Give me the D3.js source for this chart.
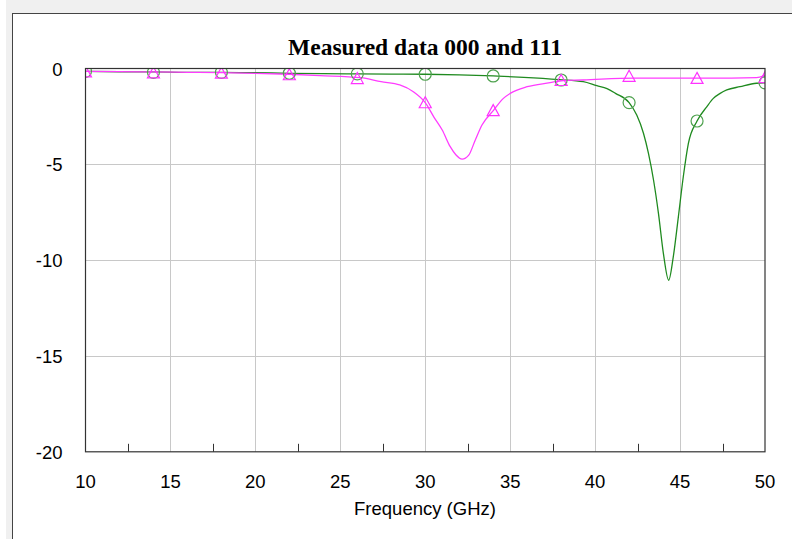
<!DOCTYPE html>
<html>
<head>
<meta charset="utf-8">
<script src="https://cdn.jsdelivr.net/npm/d3@7"></script>
<style>
  body { margin: 0; background: #ffffff; }
  svg { display: block; }
</style>
</head>
<body>
<svg width="792" height="539"></svg>
<script>
// Values
var chartTitle = "Measured data 000 and 111";
var xLabel = "Frequency (GHz)";
var xTicks = [10, 15, 20, 25, 30, 35, 40, 45, 50];
var xMinorTicks = [12.5, 17.5, 22.5, 27.5, 32.5, 37.5, 42.5, 47.5];
var yTicks = [0, -5, -10, -15, -20];

// green trace (circles)
var greenFreq = [10, 12, 14, 16, 18, 20, 22, 24, 26, 28, 30, 32, 34, 35.8, 37.9, 39.3, 40.1, 40.7, 41.2, 42.0,
                 42.45, 42.85, 43.14, 43.44, 43.73, 44.02, 44.33, 44.6, 44.9, 45.19, 45.49, 46.0, 46.57, 46.96,
                 47.36, 47.75, 48.53, 49.5, 50];
var greenDb = [-0.15, -0.17, -0.18, -0.2, -0.2, -0.22, -0.25, -0.27, -0.28, -0.29, -0.3, -0.33, -0.39, -0.46, -0.58,
               -0.69, -0.9, -1.05, -1.3, -1.78, -2.43, -3.39, -4.43, -5.83, -7.57, -9.66, -11.05, -9.83, -7.74,
               -5.65, -3.91, -2.74, -2.0, -1.56, -1.3, -1.12, -0.95, -0.77, -0.75];
var greenMarkFreq = [10, 14, 18, 22, 26, 30, 34, 38, 42, 46, 50];
var greenMarkDb = [-0.15, -0.2, -0.2, -0.25, -0.28, -0.3, -0.39, -0.6, -1.78, -2.74, -0.75];

// magenta trace (triangles)
var magFreq = [10, 12, 14, 16, 18, 20, 22, 23.8, 26.2, 27.4, 28.5, 29.3, 30.0, 30.5, 31.0, 31.47, 31.8, 32.17,
               32.56, 32.94, 33.34, 34.03, 34.6, 35.0, 36.0, 37.35, 38.0, 39.3, 42.3, 44, 46, 48, 49.5, 50];
var magDb = [-0.15, -0.16, -0.18, -0.2, -0.22, -0.25, -0.3, -0.37, -0.48, -0.69, -0.86, -1.21, -1.78, -2.52, -3.21,
             -4.08, -4.5, -4.73, -4.52, -3.74, -2.95, -2.17, -1.56, -1.3, -0.95, -0.74, -0.64, -0.6, -0.5, -0.5,
             -0.5, -0.5, -0.48, -0.35];
var magMarkFreq = [10, 14, 18, 22, 26, 30, 34, 38, 42, 46, 50];
var magMarkDb = [-0.15, -0.2, -0.22, -0.3, -0.5, -1.76, -2.17, -0.6, -0.38, -0.49, -0.45];

var svg = d3.select("svg"),
    margin = { top: 68.5, right: 27, bottom: 88, left: 85.5 },
    width = +svg.attr("width"),
    height = +svg.attr("height");

// window-like frame
svg.append("rect").attr("x", 6).attr("y", 0).attr("width", width).attr("height", height).attr("fill", "#f0f0f0");
svg.append("rect").attr("x", 12.5).attr("y", 13.5).attr("width", width).attr("height", height)
    .attr("fill", "#ffffff").attr("stroke", "#444").attr("stroke-width", 1);

var x = d3.scaleLinear().domain([10, 50]).range([margin.left, width - margin.right]);
var y = d3.scaleLinear().domain([-20, 0]).range([height - margin.bottom + 0.8, margin.top]);

// grid
svg.append("g").selectAll("line").data(xTicks.slice(1, -1)).enter().append("line")
    .attr("x1", function(d) { return Math.round(x(d)) + 0.5; })
    .attr("x2", function(d) { return Math.round(x(d)) + 0.5; })
    .attr("y1", y(0)).attr("y2", y(-20))
    .attr("stroke", "#c8c8c8").attr("stroke-width", 1);
svg.append("g").selectAll("line").data(yTicks.slice(1, -1)).enter().append("line")
    .attr("y1", function(d) { return Math.round(y(d)) + 0.5; })
    .attr("y2", function(d) { return Math.round(y(d)) + 0.5; })
    .attr("x1", x(10)).attr("x2", x(50))
    .attr("stroke", "#c8c8c8").attr("stroke-width", 1);

// minor ticks on the bottom edge
svg.append("g").selectAll("line").data(xMinorTicks).enter().append("line")
    .attr("x1", function(d) { return Math.round(x(d)) + 0.5; })
    .attr("x2", function(d) { return Math.round(x(d)) + 0.5; })
    .attr("y1", y(-20)).attr("y2", y(-20) - 8)
    .attr("stroke", "#333").attr("stroke-width", 1);

svg.append("defs").append("clipPath").attr("id", "plotClip")
    .append("rect").attr("x", x(10)).attr("y", y(0)).attr("width", x(50) - x(10)).attr("height", y(-20) - y(0));

var plot = svg.append("g").attr("clip-path", "url(#plotClip)");

var line = d3.line()
    .x(function(d) { return x(d[0]); })
    .y(function(d) { return y(d[1]); })
    .curve(d3.curveMonotoneX);

var greenPts = greenFreq.map(function(f, i) { return [f, greenDb[i]]; });
var magPts = magFreq.map(function(f, i) { return [f, magDb[i]]; });

plot.append("path").datum(greenPts).attr("d", line)
    .attr("fill", "none").attr("stroke", "#1f8a1f").attr("stroke-width", 1.3);
plot.append("path").datum(magPts).attr("d", line)
    .attr("fill", "none").attr("stroke", "#ff3cff").attr("stroke-width", 1.3);

// markers
plot.append("g").selectAll("circle")
    .data(greenMarkFreq.map(function(f, i) { return [f, greenMarkDb[i]]; }))
    .enter().append("circle")
    .attr("cx", function(d) { return x(d[0]); })
    .attr("cy", function(d) { return y(d[1]); })
    .attr("r", 6)
    .attr("fill", "none").attr("stroke", "#4fa24f").attr("stroke-width", 1.2);

plot.append("g").selectAll("path")
    .data(magMarkFreq.map(function(f, i) { return [f, magMarkDb[i]]; }))
    .enter().append("path")
    .attr("transform", function(d) { return "translate(" + x(d[0]) + "," + y(d[1]) + ")"; })
    .attr("d", "M0,-5.5L6,5.5L-6,5.5Z")
    .attr("fill", "none").attr("stroke", "#ff33ff").attr("stroke-width", 1.2);

// plot frame
svg.append("rect")
    .attr("x", x(10)).attr("y", y(0))
    .attr("width", x(50) - x(10)).attr("height", y(-20) - y(0))
    .attr("fill", "none").attr("stroke", "#333").attr("stroke-width", 1.2);

// tick labels
var labelFont = "'Liberation Sans', Arial, sans-serif";

svg.append("g").selectAll("text").data(yTicks).enter().append("text")
    .attr("x", 62.5)
    .attr("y", function(d) { return y(d) + 7; })
    .attr("text-anchor", "end")
    .style("font-family", labelFont)
    .style("font-size", "18.5px")
    .attr("fill", "#000")
    .text(function(d) { return d; });

svg.append("g").selectAll("text").data(xTicks).enter().append("text")
    .attr("x", function(d) { return x(d); })
    .attr("y", 488)
    .attr("text-anchor", "middle")
    .style("font-family", labelFont)
    .style("font-size", "18.5px")
    .attr("fill", "#000")
    .text(function(d) { return d; });

svg.append("text")
    .attr("x", 425).attr("y", 515)
    .attr("text-anchor", "middle")
    .style("font-family", labelFont)
    .style("font-size", "18.5px")
    .attr("fill", "#000")
    .text(xLabel);

svg.append("text")
    .attr("x", 425).attr("y", 55)
    .attr("text-anchor", "middle")
    .style("font-family", "'Liberation Serif', 'Times New Roman', serif")
    .style("font-size", "23.5px")
    .style("font-weight", "bold")
    .attr("fill", "#000")
    .text(chartTitle);
</script>
</body>
</html>
